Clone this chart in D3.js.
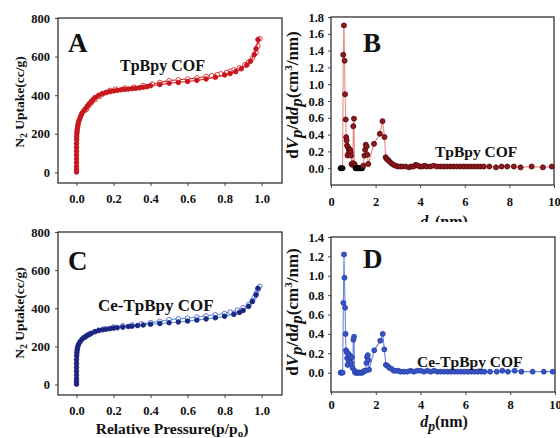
<!DOCTYPE html>
<html><head><meta charset="utf-8">
<script src="https://cdn.jsdelivr.net/npm/d3@7"></script>
<style>
body{margin:0;background:#fff;}
svg{display:block;}
text{font-family:"Liberation Serif","Times New Roman",serif;font-weight:bold;fill:#111;}
</style></head>
<body><svg id="c" width="560" height="438"></svg>
<script>
// ---------- DATA ----------
// Panel A: TpBpy COF N2 isotherm (relative pressure, uptake cc/g)
const aAdsP = [0,0,0,0,0,0,0,0,0,0.001,0.001,0.002,0.003,0.004,0.006,0.008,0.011,0.015,0.02,0.025,0.03,0.04,0.05,0.06,0.07,0.08,0.09,0.1,0.12,0.14,0.16,0.18,0.2,0.22,0.24,0.26,0.28,0.3,0.32,0.34,0.36,0.38,0.4,0.45,0.5,0.55,0.6,0.65,0.7,0.75,0.8,0.83,0.86,0.89,0.92,0.94,0.96,0.97,0.98];
const aAdsV = [2,15,30,50,70,90,110,130,150,170,185,200,212,224,236,248,260,272,285,297,307,320,332,345,357,368,378,388,400,409,414,418,422,425,428,430,432,434,436,438,441,444,449,455,462,466,471,477,484,493,505,512,522,537,556,576,610,640,688];
const aDesP = [0.99,0.98,0.97,0.95,0.93,0.91,0.88,0.85,0.83,0.81,0.78,0.76,0.73,0.7,0.65,0.6,0.55,0.5,0.45,0.41,0.36,0.31,0.26,0.21,0.18,0.16,0.14,0.125,0.1,0.08,0.065,0.053];
const aDesV = [693,655,620,592,572,558,542,532,524,518,511,506,501,497,490,484,480,475,466,458,450,442,437,432,425,414,405,394,376,360,345,325];
// Panel C: Ce-TpBpy COF N2 isotherm
const cAdsP = [0,0,0,0,0,0,0,0,0.001,0.002,0.003,0.005,0.008,0.012,0.02,0.03,0.04,0.05,0.06,0.07,0.08,0.1,0.12,0.14,0.16,0.18,0.2,0.22,0.25,0.28,0.3,0.33,0.36,0.4,0.45,0.5,0.55,0.6,0.65,0.7,0.75,0.8,0.85,0.88,0.9,0.93,0.95,0.97,0.98];
const cAdsV = [2,15,30,50,70,90,110,130,150,165,178,190,202,213,226,238,246,253,259,264,269,277,283,287,290,293,296,298,301,304,306,309,312,316,320,324,328,333,338,344,350,358,368,378,388,410,435,470,505];
const cDesP = [0.99,0.98,0.97,0.96,0.95,0.93,0.9,0.87,0.83,0.8,0.75,0.7,0.65,0.6,0.55,0.5,0.45,0.4,0.35,0.3,0.25,0.2,0.15,0.12,0.1,0.07,0.05];
const cDesV = [515,498,478,458,440,420,403,390,380,372,366,360,354,348,344,340,332,325,318,312,308,302,292,285,278,262,250];
// Panel B: TpBpy COF pore size distribution (dp nm, dVp/ddp)
const bX = [0.43,0.47,0.52,0.55,0.58,0.61,0.63,0.66,0.68,0.7,0.72,0.74,0.76,0.78,0.8,0.82,0.84,0.86,0.88,0.9,0.92,0.95,0.98,1.0,1.03,1.05,1.08,1.1,1.13,1.16,1.19,1.22,1.25,1.28,1.31,1.34,1.37,1.4,1.45,1.5,1.53,1.56,1.6,1.63,1.67,1.93,2.19,2.31,2.4,2.45,2.5,2.55,2.62,2.7,2.8,2.9,3.0,3.1,3.2,3.35,3.5,3.6,3.7,3.8,3.9,4.0,4.1,4.2,4.3,4.45,4.6,4.75,4.9,5.05,5.2,5.35,5.5,5.65,5.8,5.95,6.1,6.25,6.4,6.55,6.7,6.85,7.1,7.4,7.65,7.9,8.2,8.5,9.0,9.5,9.9];
const bY = [0,0,0,1.35,1.70,1.28,0.88,0.58,0.37,0.33,0.27,0.15,0.25,0.17,0.23,0.21,0.2,0.22,0.19,0.15,0.05,0.04,0.06,0.5,0.59,0.05,0.03,0,0,0,0,0,0,0,0,0,0,0,0.03,0.15,0.22,0.28,0.26,0.16,0.05,0.29,0.41,0.56,0.37,0.13,0.11,0.1,0.08,0.06,0.04,0.03,0.02,0.02,0.02,0.02,0.01,0.02,0.02,0.04,0.03,0.02,0.02,0.03,0.02,0.02,0.03,0.02,0.02,0.02,0.02,0.02,0.02,0.02,0.02,0.02,0.02,0.02,0.02,0.02,0.02,0.02,0.02,0.01,0.02,0.02,0.02,0.01,0.02,0.01,0.02];
// Panel D: Ce-TpBpy COF pore size distribution
const dX = [0.43,0.47,0.52,0.55,0.58,0.6,0.63,0.65,0.67,0.7,0.72,0.74,0.76,0.79,0.82,0.85,0.88,0.9,0.93,0.96,1.0,1.03,1.05,1.08,1.12,1.16,1.2,1.24,1.28,1.32,1.36,1.4,1.45,1.5,1.55,1.58,1.61,1.64,1.67,1.7,1.93,2.2,2.31,2.38,2.45,2.52,2.6,2.7,2.8,2.9,3.0,3.1,3.25,3.4,3.55,3.7,3.85,4.0,4.15,4.3,4.45,4.6,4.75,4.9,5.05,5.2,5.35,5.5,5.65,5.8,5.95,6.1,6.25,6.4,6.55,6.7,6.85,7.1,7.4,7.65,7.9,8.2,8.5,9.0,9.5,9.9];
const dY = [0,0,0,0.72,1.22,0.98,0.67,0.40,0.23,0.21,0.15,0.08,0.2,0.12,0.18,0.17,0.15,0.1,0.16,0.05,0.34,0.37,0.02,0,0,0,0,0,0,0,0,0,0.01,0.02,0.02,0.1,0.16,0.18,0.13,0.03,0.23,0.33,0.40,0.24,0.08,0.07,0.05,0.04,0.02,0.02,0.02,0.01,0.01,0.01,0.02,0.01,0.02,0.02,0.01,0.02,0.01,0.02,0.01,0.01,0.01,0.01,0.01,0.01,0.01,0.01,0.01,0.01,0.01,0.01,0.01,0.01,0.01,0.01,0.01,0.02,0.01,0.02,0.01,0.01,0.01,0.01];
// Tick values
const isoXTicks = [0,0.2,0.4,0.6,0.8,1.0];
const isoYTicks = [0,200,400,600,800];
const psdXTicks = [0,2,4,6,8,10];
const bYTicks = [0,0.2,0.4,0.6,0.8,1.0,1.2,1.4,1.6,1.8];
const dYTicks = [0,0.2,0.4,0.6,0.8,1.0,1.2,1.4];

// ---------- DRAW ----------
const svg = d3.select("#c");

function panel(o){
  const g = svg.append("g");
  const x = d3.scaleLinear().domain(o.xd).range([o.x0,o.x1]);
  const y = d3.scaleLinear().domain(o.yd).range([o.y1,o.y0]);
  const ax = g.append("g").attr("transform",`translate(0,${o.y1})`)
    .call(d3.axisBottom(x).tickValues(o.xt).tickFormat(o.xf).tickSize(3).tickPadding(o.xpad));
  const ay = g.append("g").attr("transform",`translate(${o.x0},0)`)
    .call(d3.axisLeft(y).tickValues(o.yt).tickFormat(o.yf).tickSize(3).tickPadding(o.ypad));
  [ax,ay].forEach(a=>{
    a.select(".domain").remove();
    a.selectAll("line").attr("stroke","#444");
    a.selectAll("text").attr("font-size",12.5).attr("font-family","Liberation Serif, serif").attr("font-weight","bold").attr("fill","#111");
  });
  g.append("rect").attr("x",o.x0).attr("y",o.y0).attr("width",o.x1-o.x0).attr("height",o.y1-o.y0)
    .attr("fill","none").attr("stroke","#333").attr("stroke-width",1.3);
  return {g,x,y};
}

function series(p, xs, ys, lineColor, fill, stroke, r, lw, blackFn){
  const pts = xs.map((v,i)=>[v,ys[i]]);
  p.g.append("path").attr("d",d3.line().x(d=>p.x(d[0])).y(d=>p.y(d[1]))(pts))
    .attr("fill","none").attr("stroke",lineColor).attr("stroke-width",lw);
  p.g.selectAll(null).data(pts).enter().append("circle")
    .attr("cx",d=>p.x(d[0])).attr("cy",d=>p.y(d[1])).attr("r",r)
    .attr("fill",d=>blackFn&&blackFn(d)?"#111":fill)
    .attr("stroke",d=>blackFn&&blackFn(d)?"#000":stroke).attr("stroke-width",0.9);
}

function label(x,y,txt,size,anchor){
  svg.append("text").attr("x",x).attr("y",y).attr("font-size",size).attr("text-anchor",anchor||"start").text(txt);
}

// Panel A
const fmt1 = d3.format(".1f");
const pA = panel({x0:58,x1:282,y0:18,y1:183,xd:[-0.1,1.11],yd:[-55,800],xt:isoXTicks,yt:isoYTicks,xf:fmt1,yf:d3.format("d"),xpad:8,ypad:5});
series(pA,aDesP,aDesV,"#d8282e","#fff","#d22a2f",2.3,1.2);
series(pA,aAdsP,aAdsV,"#d8282e","#c8161d","#c8161d",2.3,1.2);
label(68,52,"A",27);
label(120,71,"TpBpy COF",16);

// Panel C
const pC = panel({x0:58,x1:282,y0:232,y1:395,xd:[-0.1,1.11],yd:[-55,800],xt:isoXTicks,yt:isoYTicks,xf:fmt1,yf:d3.format("d"),xpad:8,ypad:5});
series(pC,cDesP,cDesV,"#4aa3e0","#fff","#5a5fc9",2.3,1.2);
series(pC,cAdsP,cAdsV,"#4aa3e0","#1c2680","#1c2680",2.3,1.2);
label(68,270,"C",27);
label(98,311,"Ce-TpBpy COF",17);

// Panel B
const pB = panel({x0:331,x1:554,y0:17,y1:185,xd:[0,10],yd:[-0.2,1.8],xt:psdXTicks,yt:bYTicks,xf:d3.format("d"),yf:fmt1,xpad:9,ypad:4});
series(pB,bX,bY,"#e98a8c","#8e1a1e","#5a0a0c",2.5,1.1,d=>d[1]===0&&d[0]<1.45);
label(363,52,"B",27);
label(435,157,"TpBpy COF",15.5);

// Panel D
const pD = panel({x0:331,x1:555,y0:237,y1:392,xd:[0,10],yd:[-0.2,1.4],xt:psdXTicks,yt:dYTicks,xf:d3.format("d"),yf:fmt1,xpad:5,ypad:4});
series(pD,dX,dY,"#6f86d8","#3853c4","#2c45b0",2.5,1.1);
label(363,268,"D",27);
label(417,367,"Ce-TpBpy COF",15.5);

// Axis titles
function n2Label(cx,cy,size){
  const t = svg.append("text").attr("transform",`translate(${cx},${cy}) rotate(-90)`).attr("text-anchor","middle").attr("font-size",size);
  t.append("tspan").text("N");
  t.append("tspan").attr("font-size",size*0.72).attr("dy",size*0.25).text("2");
  t.append("tspan").attr("dy",-size*0.25).text(" Uptake(cc/g)");
}
n2Label(24,102,13.5);
n2Label(24,313,13.5);

function psdYLabel(cx,cy,size){
  const t = svg.append("text").attr("transform",`translate(${cx},${cy}) rotate(-90)`).attr("text-anchor","middle").attr("font-size",size);
  t.append("tspan").text("d");
  t.append("tspan").attr("font-style","italic").text("V");
  t.append("tspan").attr("font-style","italic").attr("dy",size*0.22).text("p");
  t.append("tspan").attr("dy",-size*0.22).text("/d");
  t.append("tspan").attr("font-style","italic").text("d");
  t.append("tspan").attr("font-style","italic").attr("dy",size*0.22).text("p");
  t.append("tspan").attr("dy",-size*0.22).text("(cm");
  t.append("tspan").attr("font-size",size*0.65).attr("dy",-size*0.38).text("3");
  t.append("tspan").attr("dy",size*0.38).text("/nm)");
}
psdYLabel(298,95,17);
psdYLabel(298,312,17);

function dpLabel(cx,cy,size,clip){
  const t = svg.append("text").attr("x",cx).attr("y",cy).attr("text-anchor","middle").attr("font-size",size);
  if(clip) t.attr("clip-path","url(#clipB)");
  t.append("tspan").attr("font-style","italic").text("d");
  t.append("tspan").attr("font-style","italic").attr("font-size",size*0.85).attr("dy",size*0.22).text("p");
  t.append("tspan").attr("dy",-size*0.22).text("(nm)");
}
svg.append("defs").append("clipPath").attr("id","clipB").append("rect").attr("x",380).attr("y",205).attr("width",140).attr("height",17);
dpLabel(444,227,16,true);
dpLabel(444,427,16,false);

const rp = svg.append("text").attr("x",172).attr("y",434).attr("text-anchor","middle").attr("font-size",15.5);
rp.append("tspan").text("Relative Pressure(p/p");
rp.append("tspan").attr("font-size",11).attr("dy",3).text("o");
rp.append("tspan").attr("dy",-3).text(")");
</script></body></html>
